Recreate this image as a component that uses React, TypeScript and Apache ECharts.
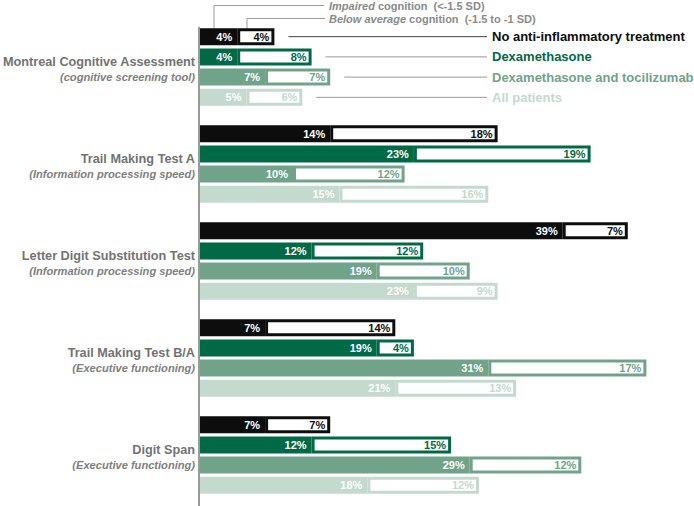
import React, { useEffect, useRef } from "react";
import * as echarts from "echarts";

const categories = [
  "Montreal Cognitive Assessment",
  "Trail Making Test A",
  "Letter Digit Substitution Test",
  "Trail Making Test B/A",
  "Digit Span",
];
const subtitles = [
  "(cognitive screening tool)",
  "(Information processing speed)",
  "(Information processing speed)",
  "(Executive functioning)",
  "(Executive functioning)",
];
const groups = [
  "No anti-inflammatory treatment",
  "Dexamethasone",
  "Dexamethasone and tocilizumab",
  "All patients",
];
const impairedNoTreatment = [4, 14, 39, 7, 7];
const impairedDexa = [4, 23, 12, 19, 12];
const impairedDexaToci = [7, 10, 19, 31, 29];
const impairedAll = [5, 15, 23, 21, 18];
const belowNoTreatment = [4, 18, 7, 14, 7];
const belowDexa = [8, 19, 12, 4, 15];
const belowDexaToci = [7, 12, 10, 17, 12];
const belowAll = [6, 16, 9, 13, 12];

const impaired = [impairedNoTreatment, impairedDexa, impairedDexaToci, impairedAll];
const below = [belowNoTreatment, belowDexa, belowDexaToci, belowAll];
const colors = ["#0d0d0d", "#006a47", "#70a38a", "#c4dace"];
const leaderColors = ["#444444", "#9a9a9a", "#9a9a9a", "#9a9a9a"];

const FONT = "'Liberation Sans', Arial, sans-serif";
const BAR_W = 17;
const GAP = 0.19;

export default function App() {
  const ref = useRef<HTMLDivElement>(null);
  useEffect(() => {
    if (!ref.current) return;
    const chart = echarts.init(ref.current, null, { renderer: "svg" });
    const series: any[] = [];
    groups.forEach((g, i) => {
      series.push({
        type: "bar",
        name: g + " impaired",
        stack: "s" + i,
        data: impaired[i],
        barWidth: BAR_W,
        barGap: GAP * 100 + "%",
        itemStyle: { color: colors[i], borderColor: colors[i], borderWidth: 3 },
        label: {
          show: true,
          position: "insideRight",
          distance: 5,
          formatter: "{c}%",
          color: "#ffffff",
          fontWeight: "bold",
          fontSize: 11,
          fontFamily: FONT,
        },
      });
      series.push({
        type: "bar",
        name: g + " below average",
        stack: "s" + i,
        data: below[i],
        barWidth: BAR_W,
        barGap: GAP * 100 + "%",
        itemStyle: { color: "#ffffff", borderColor: colors[i], borderWidth: 3 },
        label: {
          show: true,
          position: "insideRight",
          distance: 5,
          formatter: "{c}%",
          color: colors[i],
          fontWeight: "bold",
          fontSize: 11,
          fontFamily: FONT,
        },
      });
    });

    chart.setOption({
      animation: false,
      grid: { left: 200, right: 29, top: 18.5, bottom: 2.5, outerBoundsMode: "none" },
      xAxis: { type: "value", min: 0, max: 50, show: false },
      yAxis: {
        type: "category",
        data: categories,
        inverse: true,
        axisLine: { show: false },
        axisTick: { show: false },
        axisLabel: {
          margin: 5,
          padding: [4, 0, 0, 0],
          formatter: (v: string, idx: number) => `{a|${v}}\n{b|${subtitles[idx]}}`,
          rich: {
            a: { fontFamily: FONT, fontWeight: "bold", fontSize: 12.7, color: "#737373", lineHeight: 15, align: "right" },
            b: { fontFamily: FONT, fontWeight: "bold", fontStyle: "italic", fontSize: 11.1, color: "#808080", lineHeight: 14, align: "right" },
          },
        },
      },
      series,
    });

    const yc = chart.convertToPixel({ yAxisIndex: 0 }, 0) as number;
    const pitch = BAR_W * (1 + GAP);
    const graphic: any[] = [];
    // axis line
    graphic.push({
      type: "line",
      shape: { x1: 199, y1: 27, x2: 199, y2: 506 },
      style: { stroke: "#9a9a9a", lineWidth: 2 },
      z: 10,
    });
    groups.forEach((g, i) => {
      const y = yc + (i - 1.5) * pitch;
      const xEnd = chart.convertToPixel({ xAxisIndex: 0 }, impaired[i][0] + below[i][0]) as number;
      graphic.push({
        type: "line",
        shape: { x1: xEnd + 14, y1: y, x2: 487, y2: y },
        style: { stroke: leaderColors[i], lineWidth: 1 },
      });
      graphic.push({
        type: "text",
        x: 492,
        y: y,
        style: {
          text: g,
          fill: colors[i],
          font: `bold 13px ${FONT}`,
          verticalAlign: "middle",
          align: "left",
        },
      });
    });
    // annotations
    const yTop = yc - 1.5 * pitch;
    graphic.push({
      type: "polyline",
      shape: { points: [[214, yTop - 8], [214, 5.5], [324, 5.5]] },
      style: { stroke: "#9a9a9a", lineWidth: 1, fill: null },
    });
    graphic.push({
      type: "polyline",
      shape: { points: [[247, yTop - 4], [247, 18.5], [325, 18.5]] },
      style: { stroke: "#9a9a9a", lineWidth: 1, fill: null },
    });
    const annFont = `bold 11px ${FONT}`;
    graphic.push({
      type: "text",
      x: 329,
      y: 6,
      style: {
        text: "{i|Impaired} cognition  (<-1.5 SD)",
        fill: "#8a8a8a",
        font: annFont,
        verticalAlign: "middle",
        rich: { i: { fontStyle: "italic", fontWeight: "bold", fontSize: 11, fontFamily: FONT, fill: "#8a8a8a" } },
      },
    });
    graphic.push({
      type: "text",
      x: 329,
      y: 19,
      style: {
        text: "{i|Below average} cognition  (-1.5 to -1 SD)",
        fill: "#8a8a8a",
        font: annFont,
        verticalAlign: "middle",
        rich: { i: { fontStyle: "italic", fontWeight: "bold", fontSize: 11, fontFamily: FONT, fill: "#8a8a8a" } },
      },
    });
    chart.setOption({ graphic });

    return () => chart.dispose();
  }, []);
  return <div ref={ref} style={{ width: 694, height: 506, position: "absolute", left: 0, top: 0 }} />;
}
